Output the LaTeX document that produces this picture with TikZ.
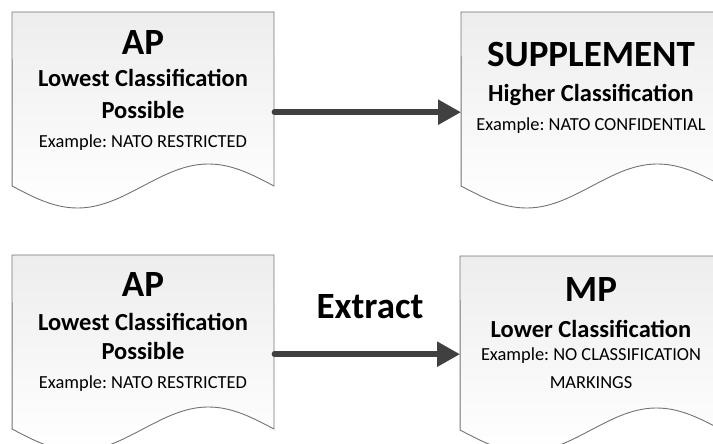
\documentclass[tikz,border=0pt]{standalone}
\usepackage{fontspec}
\setmainfont{Carlito}
\usetikzlibrary{arrows.meta}
\frenchspacing
\tikzset{
  docbox/.style={draw=black!55, line width=0.9pt, top color=black!7, bottom color=white},
  docnode/.style={minimum width=262pt, minimum height=174pt, inner sep=0pt, anchor=north west},
  headtxt/.style={font=\fontsize{37}{40}\selectfont\bfseries, anchor=base, inner sep=0pt},
  subtxt/.style={font=\fontsize{24.5}{28}\selectfont\bfseries, anchor=base, inner sep=0pt},
  extxt/.style={font=\fontsize{18.4}{22}\selectfont, anchor=base, inner sep=0pt},
  bigarrow/.style={draw=black!75, line width=5.5pt, line cap=round,
    -{Triangle[length=23pt,width=24pt]}},
}
\newcommand{\docshape}[2]{% x0, y0
  \path[docbox] (#1,#2) -- (#1+262,#2) -- (#1+262,#2+174)
    -- plot[domain=1:0, samples=60, smooth] ({#1+262*\x},{#2+174+22*sin(360*\x)}) -- cycle;
}
\begin{document}
\begin{tikzpicture}[x=1pt,y=-1pt]
\useasboundingbox (0,0) rectangle (713,444);
\clip (0,0) rectangle (713,444);
% document shapes
\docshape{12}{12}
\docshape{461}{12}
\docshape{12}{255}
\docshape{460}{256}
\node[docnode] (ap1) at (12,12) {};
\node[docnode] (sup) at (461,12) {};
\node[docnode] (ap2) at (12,255) {};
\node[docnode] (mp) at (460,256) {};
% texts top-left
\node[headtxt] (ap1h) at (143,55) {AP};
\node[subtxt] (ap1s) at (143,87) {Lowest Classification};
\node[subtxt] (ap1p) at (143,118) {Possible};
\node[extxt] (ap1e) at (143,147) {Example: NATO RESTRICTED};
% texts top-right
\node[headtxt] (suph) at (591,67) {SUPPLEMENT};
\node[subtxt] (sups) at (591,102) {Higher Classification};
\node[extxt] (supe) at (591,131) {Example: NATO CONFIDENTIAL};
% texts bottom-left
\node[headtxt] (ap2h) at (143,296) {AP};
\node[subtxt] (ap2s) at (143,330) {Lowest Classification};
\node[subtxt] (ap2p) at (143,359) {Possible};
\node[extxt] (ap2e) at (143,388) {Example: NATO RESTRICTED};
% texts bottom-right
\node[headtxt] (mph) at (591,301) {MP};
\node[subtxt] (mps) at (591,337) {Lower Classification};
\node[extxt] (mpe) at (591,360) {Example: NO CLASSIFICATION};
\node[extxt] (mpm) at (591,388) {MARKINGS};
% arrows
\draw[bigarrow] ([yshift=-13pt]ap1.east) -- ([yshift=-13pt]sup.west);
\draw[bigarrow] ([yshift=-12pt]ap2.east) -- ([yshift=-11pt]mp.west);
\node[headtxt] (ext) at (370,318) {Extract};
\end{tikzpicture}
\end{document}
